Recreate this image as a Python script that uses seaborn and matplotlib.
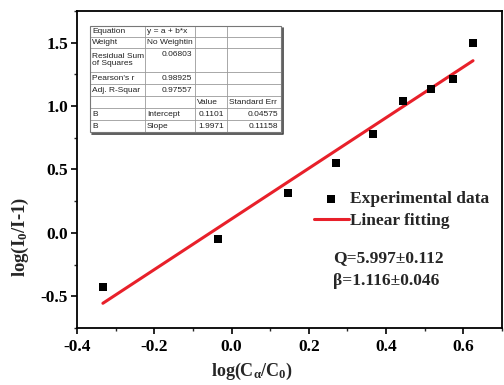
import matplotlib
matplotlib.use('Agg')
import matplotlib.pyplot as plt
import seaborn as sns
import pandas as pd
from matplotlib.ticker import MultipleLocator
from matplotlib.lines import Line2D
from matplotlib.patches import Rectangle

sns.set_theme(style='ticks')
plt.rcParams['font.family'] = ['Liberation Serif', 'DejaVu Serif']
plt.rcParams['font.weight'] = 'bold'
plt.rcParams['mathtext.default'] = 'regular'
plt.rcParams['axes.unicode_minus'] = False

# data
x_data = [-0.333, -0.034, 0.145, 0.270, 0.367, 0.445, 0.515, 0.574, 0.625]
y_data = [-0.428, -0.049, 0.315, 0.549, 0.779, 1.044, 1.134, 1.216, 1.495]
fit_x = [-0.333, 0.625]
fit_y = [-0.555, 1.358]

table_rows = [
    ["Equation", "y = a + b*x", "", ""],
    ["Weight", "No Weightin", "", ""],
    ["Residual Sum\nof Squares", "0.06803", "", ""],
    ["Pearson's r", "0.98925", "", ""],
    ["Adj. R-Squar", "0.97557", "", ""],
    ["", "", "Value", "Standard Err"],
    ["B", "Intercept", "0.1101", "0.04575"],
    ["B", "Slope", "1.9971", "0.11158"],
]
right_aligned = {(2, 1), (3, 1), (4, 1), (6, 2), (7, 2), (6, 3), (7, 3)}

W, H = 504, 385
fig = plt.figure(figsize=(W / 100, H / 100), dpi=100)
ax = fig.add_axes([77 / W, 1 - 328 / H, (502 - 77) / W, (328 - 11) / H])

df_pts = pd.DataFrame({'x': x_data, 'y': y_data})
df_fit = pd.DataFrame({'x': fit_x, 'y': fit_y})
sns.lineplot(data=df_fit, x='x', y='y', color='#e8202a', lw=2.2, ax=ax,
             label='Linear fitting', zorder=2)
sns.scatterplot(data=df_pts, x='x', y='y', marker='s', color='black', s=28,
                edgecolor='black', linewidth=0, ax=ax,
                label='Experimental data', zorder=3)

ax.set_xlim(-0.4, 0.7)
ax.set_ylim(-0.75, 1.75)
ax.xaxis.set_major_locator(MultipleLocator(0.2))
ax.xaxis.set_minor_locator(MultipleLocator(0.1))
ax.yaxis.set_major_locator(MultipleLocator(0.5))
ax.yaxis.set_minor_locator(MultipleLocator(0.25))
ax.tick_params(which='major', direction='out', length=4, width=1.2,
               labelsize=12.5, pad=2.5, colors='black')
ax.tick_params(axis='x', which='major', pad=4)
ax.tick_params(which='minor', direction='out', length=2.5, width=1.0)
for s in ax.spines.values():
    s.set_visible(True)
    s.set_linewidth(1.3)
    s.set_color('black')
for lab in ax.get_xticklabels() + ax.get_yticklabels():
    lab.set_fontweight('bold')

ax.set_xlabel(r'log(C$_{\alpha}$/C$_0$)', fontsize=13, fontweight='bold')
ax.set_ylabel(r'log(I$_0$/I-1)', fontsize=13.5, fontweight='bold')
ax.xaxis.set_label_coords((252 - 77) / 425, -(361 - 328) / 317)
ax.yaxis.set_label_coords((31 - 77) / 425, (328 - 237) / 317)

handles, labels = ax.get_legend_handles_labels()
order = [labels.index('Experimental data'), labels.index('Linear fitting')]
ax.legend([handles[i] for i in order], [labels[i] for i in order],
          loc='upper left', bbox_to_anchor=(314 / W, 1 - 191 / H),
          bbox_transform=fig.transFigure, frameon=False,
          prop={'weight': 'bold', 'size': 12.5}, handlelength=2.0,
          handletextpad=0.1, borderpad=0, borderaxespad=0, labelspacing=0.35)

fig.text(333 / W, 1 - 258 / H, 'Q=5.997±0.112', fontsize=12.5,
         fontweight='bold', va='center', ha='left')
fig.text(333 / W, 1 - 281 / H, 'β=1.116±0.046', fontsize=12.5,
         fontweight='bold', va='center', ha='left')

# inset fit table
cols = [90, 145, 195, 227, 281]
rows = [26, 37, 48, 72, 84, 96, 108, 120, 132]


def fx(x):
    return x / W


def fy(y):
    return 1 - y / H


fig.add_artist(Rectangle((fx(cols[0]), fy(rows[-1])), fx(cols[-1]) - fx(cols[0]),
                         fy(rows[0]) - fy(rows[-1]), transform=fig.transFigure,
                         facecolor='white', edgecolor='none', zorder=4))
for y in rows[1:-1]:
    fig.add_artist(Line2D([fx(cols[0]), fx(cols[-1])], [fy(y), fy(y)],
                          transform=fig.transFigure, color='#9a9a9a', lw=0.6, zorder=5))
for x in cols[1:-1]:
    fig.add_artist(Line2D([fx(x), fx(x)], [fy(rows[0]), fy(rows[-1])],
                          transform=fig.transFigure, color='#9a9a9a', lw=0.6, zorder=5))
fig.add_artist(Rectangle((fx(cols[0]), fy(rows[-1])), fx(cols[-1]) - fx(cols[0]),
                         fy(rows[0]) - fy(rows[-1]), transform=fig.transFigure,
                         facecolor='none', edgecolor='#777777', lw=0.8, zorder=6))
# shadow
fig.add_artist(Line2D([fx(cols[0] + 2), fx(cols[-1] + 2), fx(cols[-1] + 2)],
                      [fy(rows[-1] + 2), fy(rows[-1] + 2), fy(rows[0] + 2)],
                      transform=fig.transFigure, color='#444444', lw=1.2, zorder=6))

for r, row in enumerate(table_rows):
    for c, txt in enumerate(row):
        if not txt:
            continue
        top = rows[r]
        if r == 2:
            ytxt = top + 6.5 if c == 1 else (rows[r] + rows[r + 1]) / 2
        else:
            ytxt = (rows[r] + rows[r + 1]) / 2
        if (r, c) in right_aligned:
            xt, ha = cols[c + 1] - 3, 'right'
        else:
            xt, ha = cols[c] + 2, 'left'
        fig.text(fx(xt), fy(ytxt), txt, fontsize=6, fontweight='normal',
                 family=['Liberation Sans', 'DejaVu Sans'], color='#222222',
                 ha=ha, va='center', zorder=7, linespacing=1.1)

fig.savefig('out.png', dpi=100)
